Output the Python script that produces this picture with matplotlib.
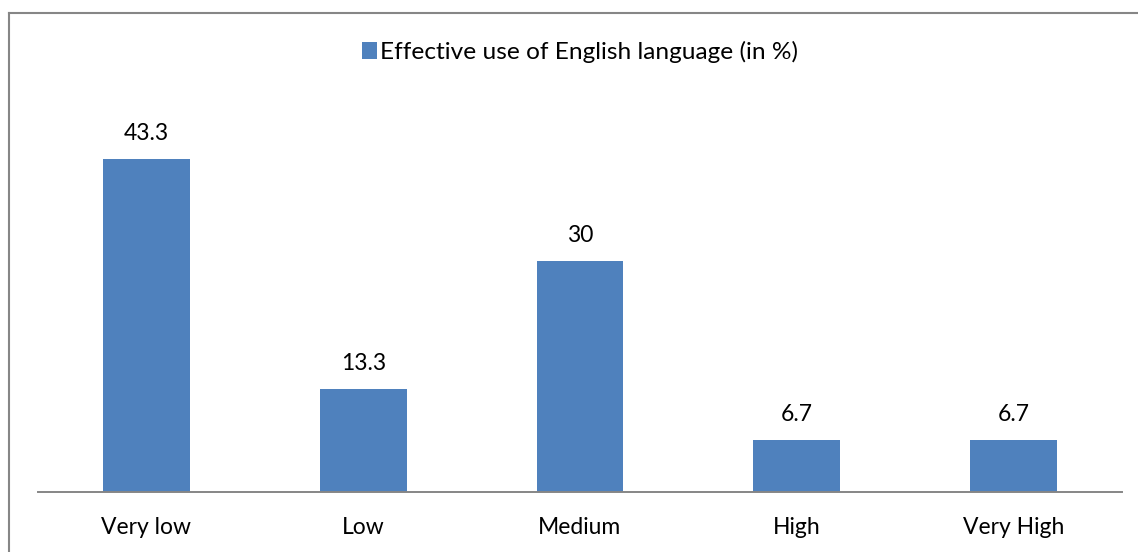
import matplotlib.pyplot as plt
from matplotlib.lines import Line2D
from matplotlib.patches import Patch

# survey results
categories = ['Very low', 'Low', 'Medium', 'High', 'Very High']
values = [43.3, 13.3, 30, 6.7, 6.7]
value_labels = ['43.3', '13.3', '30', '6.7', '6.7']
series_name = 'Effective use of English language (in %)'

bar_color = '#4F81BD'
line_color = '#868686'

plt.rcParams['font.family'] = ['Lato', 'DejaVu Sans']

W, H = 1138, 552
fig = plt.figure(figsize=(W / 100, H / 100), dpi=100)

# axes placed in pixel units
left, right, base, top = 38, 1122, 491.5, 100
ax = fig.add_axes([left / W, 1 - base / H, (right - left) / W, (base - top) / H])

x = list(range(len(categories)))
ax.bar(x, values, width=0.4, color=bar_color, zorder=2)
ax.set_xlim(-0.5, len(categories) - 0.5)
ax.set_ylim(0, (base - top) / 7.69)

for xi, v, lab in zip(x, values, value_labels):
    ax.annotate(lab, (xi, v), xytext=(0, 13.5), textcoords='offset points',
                ha='center', va='baseline', fontsize=16.5, color='black')

ax.set_xticks(x)
ax.set_xticklabels(categories, fontsize=16.5)
ax.tick_params(axis='x', length=0, pad=18)
ax.set_yticks([])
for s in ['left', 'right', 'top']:
    ax.spines[s].set_visible(False)
ax.spines['bottom'].set_color(line_color)
ax.spines['bottom'].set_linewidth(1.4)

# legend on top
handle = Patch(facecolor=bar_color, edgecolor='none')
fig.legend([handle], [series_name], loc='center', bbox_to_anchor=(580 / W, 1 - 52 / H),
           frameon=False, fontsize=17.6, handlelength=0.6, handleheight=0.65,
           handletextpad=0.15, borderpad=0)

# chart frame: only the top and left edges fall inside the image
fx, fy = 9 / W, 1 - 12.5 / H
fig.add_artist(Line2D([fx, 1.0], [fy, fy], transform=fig.transFigure,
                      color=line_color, linewidth=1.5))
fig.add_artist(Line2D([fx, fx], [0.0, fy], transform=fig.transFigure,
                      color=line_color, linewidth=1.5))

fig.savefig('out.png', dpi=100)
